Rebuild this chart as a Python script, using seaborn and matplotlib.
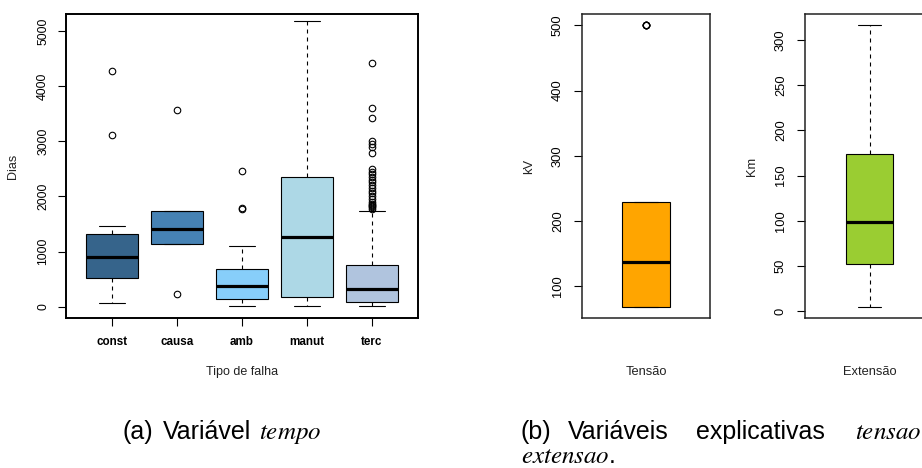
import matplotlib
matplotlib.use("Agg")
import pandas as pd
import matplotlib.pyplot as plt
import seaborn as sns

# ---- dados (resumo de cinco números + pontos atípicos) ----
tipos = ["const", "causa", "amb", "manut", "terc"]
cores = ["#36648B", "#4682B4", "#87CEFA", "#ADD8E6", "#B0C4DE"]
dias_min = [72, 1141, 12, 6, 6]
dias_q1 = [520, 1141, 139, 175, 78]
dias_med = [906, 1413, 368, 1256, 314]
dias_q3 = [1310, 1733, 688, 2348, 749]
dias_max = [1467, 1733, 1105, 5181, 1740]
dias_out = [
    [3110, 4280],
    [223, 3574],
    [1775, 1790, 2464],
    [],
    [1775, 1800, 1820, 1850, 1870, 1905, 1960, 2010, 2060, 2100, 2150, 2210,
     2260, 2300, 2350, 2400, 2450, 2500, 2790, 2900, 2960, 3000, 3420, 3600, 4420],
]

tensao_resumo = [69, 69, 138, 230, 230]
tensao_out = [500, 500, 500, 500, 500]
extensao_resumo = [5, 52, 99, 174, 316]
extensao_out = []

W = 100  # peso de cada quartil na amostra montada a partir do resumo


def amostra(lo, q1, med, q3, hi, outs):
    baixo = [v for v in outs if v < lo]
    alto = [v for v in outs if v > hi]
    return baixo + [lo] + [q1] * W + [med] * W + [q3] * W + [hi] + alto


sns.set_style("ticks")
plt.rcParams.update({
    "font.family": ["Liberation Sans", "DejaVu Sans"],
    "mathtext.fontset": "stix",
    "axes.edgecolor": "black",
    "xtick.color": "black",
    "ytick.color": "black",
    "text.color": "black",
    "axes.labelcolor": "#222222",
})

box_kw = dict(
    saturation=1,
    linecolor="black",
    linewidth=0.8,
    whiskerprops=dict(linestyle=(0, (3.6, 3.6))),
    medianprops=dict(linewidth=2.3, color="black"),
    flierprops=dict(marker="o", markerfacecolor="none", markeredgecolor="black",
                    markersize=4.7, markeredgewidth=0.8),
    legend=False,
)

fig = plt.figure(figsize=(9.22, 4.68), dpi=100)
W_PX, H_PX = 922, 468


def eixo(x0, y0, x1, y1):
    return fig.add_axes([x0 / W_PX, 1 - y1 / H_PX, (x1 - x0) / W_PX, (y1 - y0) / H_PX])


# ---- (a) tempo por tipo de falha ----
rows = []
for i, t in enumerate(tipos):
    for v in amostra(dias_min[i], dias_q1[i], dias_med[i], dias_q3[i], dias_max[i], dias_out[i]):
        rows.append((t, v))
df = pd.DataFrame(rows, columns=["tipo", "dias"])

ax = eixo(66, 14, 418, 318)
sns.boxplot(data=df, x="tipo", y="dias", hue="tipo", order=tipos, hue_order=tipos,
            palette=cores, width=0.8, ax=ax, **box_kw)
ax.set_xlim(-0.708, 4.708)
ax.set_ylim(-205, 5310)
ax.set_yticks(range(0, 5001, 1000))
ax.set_yticklabels([str(v) for v in range(0, 5001, 1000)], rotation=90, va="center", fontsize=8.8)
ax.set_xticks(range(len(tipos)))
ax.set_xticklabels(tipos, fontweight="bold", fontsize=8.4)
ax.tick_params(axis="y", length=5.8, width=0.8, pad=6.3)
ax.tick_params(axis="x", length=5.8, width=0.8, pad=7)
for s in ax.spines.values():
    s.set_linewidth(1.4)
ax.set_xlabel("Tipo de falha", fontsize=9)
ax.set_ylabel("Dias", fontsize=9)
ax.xaxis.set_label_coords(0.5, -0.1776)
ax.xaxis.label.set_va("center")
ax.yaxis.set_label_coords(-0.15, 0.5)
ax.yaxis.label.set_va("center")

# ---- (b) tensao e extensao ----
paineis = [
    ("Tensão", "kV", tensao_resumo, tensao_out, "orange", (582, 710), (51.7, 517.3), range(100, 501, 100)),
    ("Extensão", "Km", extensao_resumo, extensao_out, "yellowgreen", (805, 934), (-7.4, 328.4), range(0, 301, 50)),
]
for nome, unidade, resumo, outs, cor, (x0, x1), ylim, ticks in paineis:
    d = pd.DataFrame({"var": nome, "valor": amostra(*resumo, outs)})
    axb = eixo(x0, 14, x1, 318)
    sns.boxplot(data=d, x="var", y="valor", hue="var", palette=[cor], width=0.4, ax=axb, **box_kw)
    axb.set_xlim(-0.54, 0.54)
    axb.set_ylim(*ylim)
    axb.set_xticks([])
    axb.set_yticks(list(ticks))
    axb.set_yticklabels([str(v) for v in ticks], rotation=90, va="center", fontsize=9.3)
    axb.tick_params(axis="y", length=5.8, width=0.8, pad=7.2)
    for s in axb.spines.values():
        s.set_linewidth(1.1)
        s.set_edgecolor("#222222")
    axb.set_xlabel(nome, fontsize=9.3)
    axb.set_ylabel(unidade, fontsize=9.3)
    axb.xaxis.set_label_coords(0.5, -0.1776)
    axb.xaxis.label.set_va("center")
    axb.yaxis.set_label_coords(-0.41, 0.5)
    axb.yaxis.label.set_va("center")

# ---- legendas das subfiguras ----
def legenda(x, y, s, **kw):
    fig.text(x / W_PX, 1 - y / H_PX, s, va="baseline", ha="left", fontsize=18, **kw)


legenda(123, 439, "(a)")
legenda(163, 439, "Variável")
legenda(259, 439, r"$tempo$")
legenda(521, 439, "(b)")
legenda(568, 439, "Variáveis")
legenda(696, 439, "explicativas")
legenda(855, 439, r"$tensao$")
legenda(521, 463, r"$extensao$.")

fig.savefig("out.png", dpi=100)
